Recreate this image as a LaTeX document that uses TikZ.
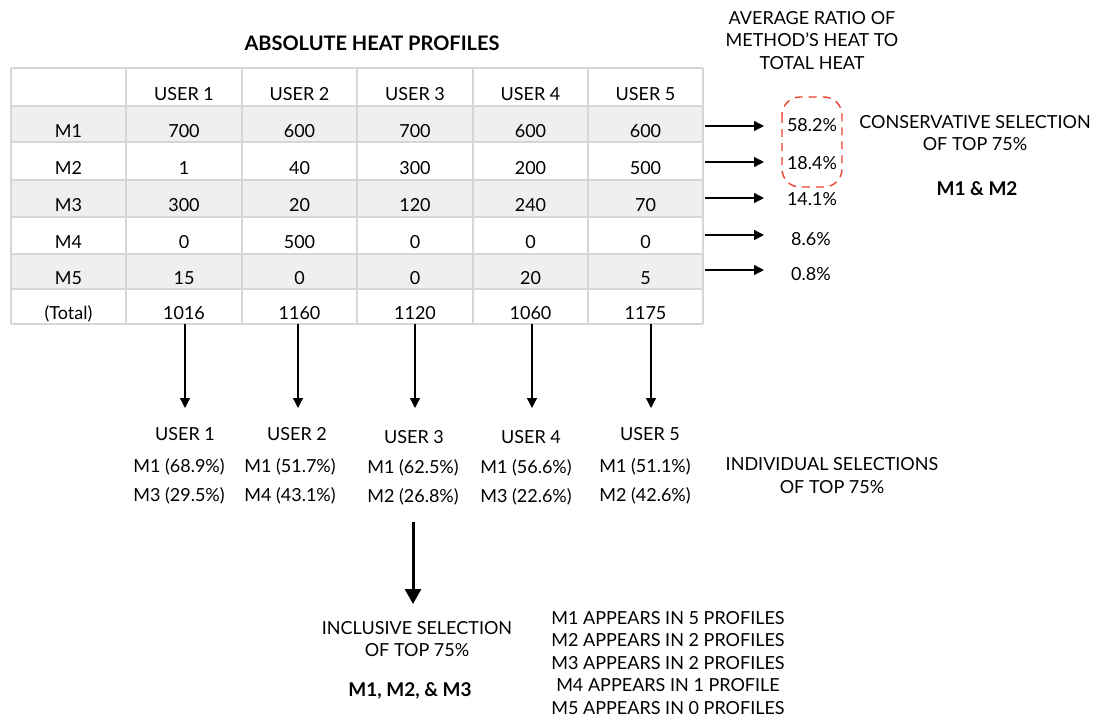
\documentclass[tikz,border=0pt]{standalone}
\usepackage{fontspec}
\setmainfont{Lato}
\usetikzlibrary{arrows.meta}
\definecolor{gridgray}{HTML}{D6D6D6}
\definecolor{bandgray}{HTML}{EFEFEF}
\definecolor{hlred}{HTML}{E8412C}
% one table row: name prefix, baseline, label and five values
\newcommand\cellrow[8]{%
  \node[txt] (#1-0) at (68.5,#2) {#3};
  \node[txt] (#1-1) at (184,#2) {#4};
  \node[txt] (#1-2) at (299.5,#2) {#5};
  \node[txt] (#1-3) at (415,#2) {#6};
  \node[txt] (#1-4) at (530.5,#2) {#7};
  \node[txt] (#1-5) at (645.5,#2) {#8};}
\begin{document}
\begin{tikzpicture}[x=1pt,y=-1pt,
  txt/.style={font=\fontsize{18}{20}\selectfont, inner sep=0pt, anchor=base, align=center},
  boldtxt/.style={txt, font=\fontsize{19}{22}\selectfont\bfseries},
  gridline/.style={draw=gridgray, line width=1.5pt},
  band/.style={fill=bandgray},
  arr/.style={-{Triangle[length=10pt,width=10pt]}, line width=1.3pt},
  bigarr/.style={-{Triangle[length=15pt,width=16pt]}, line width=3pt},
  hlbox/.style={draw=hlred, dash pattern=on 8pt off 6pt, line width=1.4pt, rounded corners=18pt}]
\useasboundingbox (0,0) rectangle (1100,720);

% title
\node[boldtxt, font=\fontsize{20}{22}\selectfont\bfseries] (title) at (372,50) {ABSOLUTE HEAT PROFILES};

% table bands and grid
\fill[band] (11,106) rectangle (703,142);
\fill[band] (11,180) rectangle (703,217);
\fill[band] (11,254) rectangle (703,289);
\foreach \y in {68,106,142,180,217,254,289,324}
  \draw[gridline] (11,\y) -- (703,\y);
\foreach \x in {11,126,242,357,473,588,703}
  \draw[gridline] (\x,68) -- (\x,324);

% table contents
\cellrow{hd}{100}{}{USER 1}{USER 2}{USER 3}{USER 4}{USER 5}
\cellrow{ma}{137}{M1}{700}{600}{700}{600}{600}
\cellrow{mb}{174}{M2}{1}{40}{300}{200}{500}
\cellrow{mc}{211}{M3}{300}{20}{120}{240}{70}
\cellrow{md}{248}{M4}{0}{500}{0}{0}{0}
\cellrow{me}{284}{M5}{15}{0}{0}{20}{5}
\cellrow{tot}{319}{(Total)}{1016}{1160}{1120}{1060}{1175}

% average ratios (multi-line nodes sit on the baseline of their last line)
\node[txt] (avg) at (812,69) {AVERAGE RATIO OF\\[2.5pt]METHOD'S HEAT TO\\[2.5pt]TOTAL HEAT};
\node[txt] (p1) at (812,131) {58.2\%};
\node[txt] (p2) at (812,169) {18.4\%};
\node[txt] (p3) at (812,205) {14.1\%};
\node[txt] (p4) at (811,245) {8.6\%};
\node[txt] (p5) at (811,280) {0.8\%};
\foreach \i/\y in {1/126,2/162,3/198,4/235,5/270}{
  \coordinate (rs\i) at (705,\y);
  \coordinate (re\i) at (764,\y);
  \draw[arr] (rs\i) -- (re\i);
}
\draw[hlbox] (782,97) rectangle (842,187);

\node[txt] (cons) at (975,150) {CONSERVATIVE SELECTION\\[2pt]OF TOP 75\%};
\node[boldtxt] (consres) at (977,195) {M1 \& M2};

% per-user selections
\foreach \i/\x in {1/185,2/298,3/415,4/532,5/651}{
  \coordinate (ds\i) at (\x,324);
  \coordinate (de\i) at (\x,408);
  \draw[arr] (ds\i) -- (de\i);
}
\node[txt] (u1) at (185,440) {USER 1};
\node[txt] (u2) at (297,440) {USER 2};
\node[txt] (u3) at (414,443) {USER 3};
\node[txt] (u4) at (531,443) {USER 4};
\node[txt] (u5) at (650,440) {USER 5};
\node[txt] (s1a) at (179,472) {M1 (68.9\%)};
\node[txt] (s2a) at (290,472) {M1 (51.7\%)};
\node[txt] (s3a) at (413,473) {M1 (62.5\%)};
\node[txt] (s4a) at (526,473) {M1 (56.6\%)};
\node[txt] (s5a) at (645,472) {M1 (51.1\%)};
\node[txt] (s1b) at (179,501) {M3 (29.5\%)};
\node[txt] (s2b) at (290,501) {M4 (43.1\%)};
\node[txt] (s3b) at (413,502) {M2 (26.8\%)};
\node[txt] (s4b) at (526,502) {M3 (22.6\%)};
\node[txt] (s5b) at (645,501) {M2 (42.6\%)};
\node[txt] (indiv) at (832,493) {INDIVIDUAL SELECTIONS\\[3pt]OF TOP 75\%};

% inclusive selection
\coordinate (bs) at (413,522);
\coordinate (be) at (413,604);
\draw[bigarr] (bs) -- (be);
\node[txt] (incl) at (417,656) {INCLUSIVE SELECTION\\[2pt]OF TOP 75\%};
\node[boldtxt] (inclres) at (410,696) {M1, M2, \& M3};
\node[txt] (counts) at (668,714) {M1 APPEARS IN 5 PROFILES\\[2.5pt]M2 APPEARS IN 2 PROFILES\\[2.5pt]M3 APPEARS IN 2 PROFILES\\[2.5pt]M4 APPEARS IN 1 PROFILE\\[2.5pt]M5 APPEARS IN 0 PROFILES};
\end{tikzpicture}
\end{document}
